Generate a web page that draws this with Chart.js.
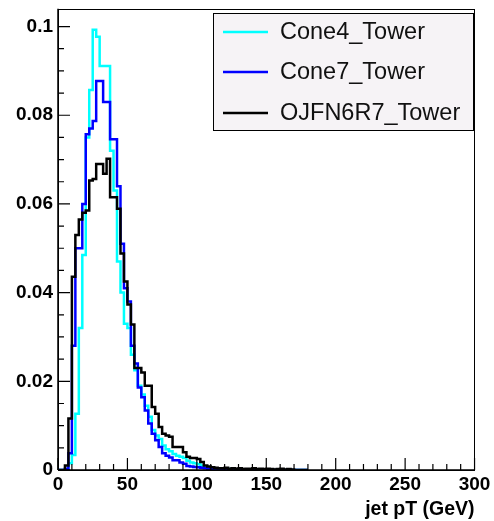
<!DOCTYPE html>
<html>
<head>
<meta charset="utf-8">
<script src="https://cdn.jsdelivr.net/npm/chart.js@4.4.1/dist/chart.umd.min.js"></script>
<style>
  html, body { margin: 0; padding: 0; background: #ffffff; }
  #wrap { width: 494px; height: 521px; position: relative; }
</style>
</head>
<body>
<div id="wrap"><canvas id="c" width="494" height="521"></canvas></div>
<script>
// ---------------- data ----------------
const seriesNames = ['Cone4_Tower', 'Cone7_Tower', 'OJFN6R7_Tower'];
const binWidth = 2.5;            // GeV, bins start at 0
// values per bin, bin low edges 0, 2.5, 5, ... 177.5 GeV
const cone4Tower = [
  0, 0, 0, 0.0015, 0.0034, 0.0127, 0.032, 0.0485, 0.075, 0.0857,
  0.0993, 0.0977, 0.0911, 0.0911, 0.0911, 0.072, 0.063, 0.047, 0.040, 0.033,
  0.032, 0.026, 0.0225, 0.019, 0.017, 0.0145, 0.012, 0.009, 0.0078, 0.007,
  0.0055, 0.0047, 0.0042, 0.0036, 0.0032, 0.003, 0.0027, 0.0021, 0.0017, 0.0015,
  0.0013, 0.001, 0.0007, 0.0005, 0.0004, 0.0003, 0.0002, 0.0002, 0.0001, 0.0002,
  0.0001, 0.0001, 0, 0.0001, 0, 0.0001, 0, 0, 0.0001, 0,
  0, 0, 0, 0, 0, 0, 0, 0, 0, 0, 0, 0
];
const cone7Tower = [
  0, 0, 0.0003, 0.0038, 0.028, 0.050, 0.050, 0.060, 0.0757, 0.077,
  0.0787, 0.0877, 0.0877, 0.083, 0.083, 0.0746, 0.0746, 0.064, 0.051, 0.041,
  0.038, 0.028, 0.024, 0.0186, 0.0164, 0.0134, 0.0105, 0.0082, 0.0067, 0.0052,
  0.0038, 0.0032, 0.0028, 0.0022, 0.0022, 0.0017, 0.0014, 0.0009, 0.0008, 0.0007,
  0.0006, 0.0005, 0.0004, 0.0003, 0.0002, 0.0002, 0.0001, 0.0001, 0.0001, 0,
  0.0001, 0, 0, 0.0001, 0.0001, 0, 0, 0, 0, 0,
  0, 0, 0, 0, 0, 0, 0, 0, 0, 0, 0, 0
];
const ojfn6r7Tower = [
  0, 0, 0.001, 0.0116, 0.0436, 0.053, 0.0565, 0.058, 0.0585, 0.0653,
  0.0656, 0.069, 0.069, 0.0668, 0.0702, 0.0615, 0.0615, 0.0589, 0.0488, 0.0425,
  0.0373, 0.0328, 0.023, 0.023, 0.022, 0.019, 0.019, 0.0142, 0.0127, 0.0097,
  0.0082, 0.0078, 0.0075, 0.0052, 0.0052, 0.0052, 0.004, 0.003, 0.0027, 0.0027,
  0.0025, 0.0018, 0.001, 0.0008, 0.0006, 0.0005, 0.0004, 0.0004, 0.0005, 0.0003,
  0.0004, 0.0003, 0.0004, 0.0002, 0.0003, 0.0003, 0.0004, 0.0002, 0.0003, 0.0002,
  0.0003, 0.0002, 0.0001, 0.0002, 0.0003, 0.0001, 0.0002, 0.0001, 0, 0, 0, 0
];
const xTickValues = [0, 50, 100, 150, 200, 250, 300];
const yTickValues = [0, 0.02, 0.04, 0.06, 0.08, 0.1];
const xTitle = 'jet pT (GeV)';

// ---------------- helpers ----------------
function histPoints(vals) {
  const pts = vals.map((v, i) => ({ x: i * binWidth, y: v }));
  pts.push({ x: vals.length * binWidth, y: vals[vals.length - 1] });
  return pts;
}
const FONT = "'Liberation Sans', Arial, Helvetica, sans-serif";

// frame, inner tick marks and legend box (drawn through the chart scales)
const rootStylePlugin = {
  id: 'rootStyle',
  afterDraw(chart) {
    const ctx = chart.ctx;
    const a = chart.chartArea;
    const xs = chart.scales.x, ys = chart.scales.y;
    ctx.save();
    // frame
    ctx.strokeStyle = '#000';
    ctx.lineWidth = 1;
    ctx.strokeRect(Math.round(a.left) + 0.5, Math.round(a.top) + 0.5,
                   Math.round(a.right - a.left) - 1, Math.round(a.bottom - a.top));
    // axes lines (slightly heavier)
    ctx.lineWidth = 1.5;
    ctx.beginPath();
    ctx.moveTo(a.left, a.bottom); ctx.lineTo(a.right, a.bottom);
    ctx.moveTo(a.left, a.top); ctx.lineTo(a.left, a.bottom);
    ctx.stroke();
    // ticks
    ctx.lineWidth = 1.2;
    ctx.beginPath();
    for (let v = 0; v <= 300 + 1e-9; v += 10) {
      const px = xs.getPixelForValue(v);
      const len = (Math.abs(v % 50) < 1e-6) ? 12 : 6;
      ctx.moveTo(px, a.bottom); ctx.lineTo(px, a.bottom - len);
    }
    for (let k = 0; k <= 20; k++) {
      const v = k * 0.005;
      const py = ys.getPixelForValue(v);
      const len = (k % 4 === 0) ? 12 : 6;
      ctx.moveTo(a.left, py); ctx.lineTo(a.left + len, py);
    }
    ctx.stroke();

    // legend
    const lx = 213, ly = 13, lw = 260, lh = 117;
    ctx.fillStyle = '#f6f3f6';
    ctx.fillRect(lx, ly, lw, lh);
    ctx.strokeStyle = '#000';
    ctx.lineWidth = 1;
    ctx.strokeRect(lx + 0.5, ly + 0.5, lw, lh);
    const rows = [32, 72, 113];
    ctx.font = '23.5px ' + FONT;
    ctx.textBaseline = 'middle';
    ctx.textAlign = 'left';
    chart.data.datasets.forEach((ds, i) => {
      const y = rows[i];
      ctx.strokeStyle = ds.borderColor;
      ctx.lineWidth = 2.5;
      ctx.beginPath();
      ctx.moveTo(223, y); ctx.lineTo(268, y);
      ctx.stroke();
      ctx.fillStyle = '#111';
      ctx.fillText(ds.label, 280, y + 1);
    });
    ctx.restore();
  }
};

const ctx = document.getElementById('c').getContext('2d');
new Chart(ctx, {
  type: 'line',
  data: {
    datasets: [
      { label: seriesNames[0], data: histPoints(cone4Tower), borderColor: '#00ffff', order: 3 },
      { label: seriesNames[1], data: histPoints(cone7Tower), borderColor: '#0000ff', order: 2 },
      { label: seriesNames[2], data: histPoints(ojfn6r7Tower), borderColor: '#000000', order: 1 }
    ].map(d => Object.assign(d, {
      borderWidth: 2.5, stepped: 'before', pointRadius: 0, fill: false,
      tension: 0, borderJoinStyle: 'miter', borderCapStyle: 'butt'
    }))
  },
  options: {
    responsive: false,
    animation: false,
    devicePixelRatio: 1,
    layout: { padding: { left: 0, top: 5, right: 17, bottom: 0 } },
    plugins: { legend: { display: false }, tooltip: { enabled: false } },
    scales: {
      x: {
        type: 'linear', min: 0, max: 300,
        grid: { display: false, drawTicks: false, tickLength: 0 }, border: { display: false },
        afterBuildTicks: s => { s.ticks = xTickValues.map(v => ({ value: v })); },
        afterFit: s => { s.height = 51; },
        ticks: {
          padding: 3.6, maxRotation: 0, autoSkip: false, color: '#000',
          font: { family: FONT, weight: 'bold', size: 19 },
          callback: v => String(v)
        },
        title: {
          display: true, text: xTitle, align: 'end', color: '#000',
          font: { family: FONT, weight: 'bold', size: 19.5 },
          padding: { top: 1, bottom: 0 }
        }
      },
      y: {
        type: 'linear', min: 0, max: 0.104,
        grid: { display: false, drawTicks: false, tickLength: 0 }, border: { display: false },
        afterBuildTicks: s => { s.ticks = yTickValues.map(v => ({ value: v })); },
        afterFit: s => { s.width = 58; },
        ticks: {
          padding: 5, autoSkip: false, color: '#000',
          font: { family: FONT, weight: 'bold', size: 19, lineHeight: 0.4 },
          callback: v => (v === 0 ? '0' : String(+v.toFixed(3)))
        }
      }
    }
  },
  plugins: [rootStylePlugin]
});
</script>
</body>
</html>
